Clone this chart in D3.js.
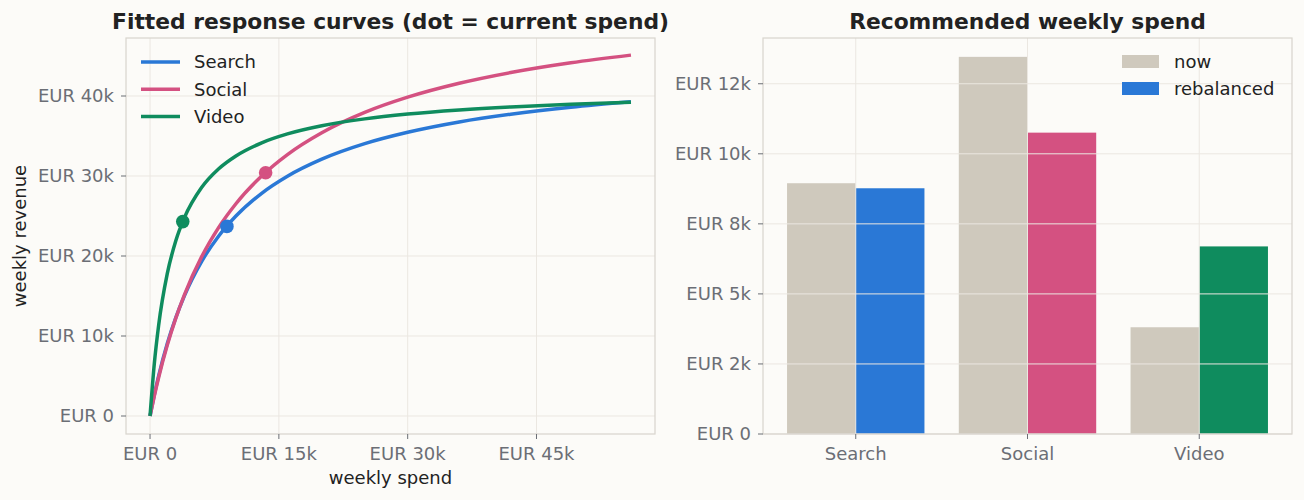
<!DOCTYPE html>
<html>
<head>
<meta charset="utf-8">
<script src="https://cdn.jsdelivr.net/npm/d3@7"></script>
<style>
  html, body { margin: 0; padding: 0; background: #fcfbf8; }
  svg { display: block; font-family: "DejaVu Sans", sans-serif; }
</style>
</head>
<body>
<svg id="chart" width="1304" height="500"></svg>
<script>
const spendGrid = [0, 500, 1000, 2000, 3000, 4000, 6000, 8000, 10000, 13000, 16000, 20000, 25000, 30000, 36000, 42000, 49000, 56000];
const searchRevenue = [0, 2650, 5010, 9020, 12290, 15020, 19300, 22500, 24990, 27840, 29970, 32100, 34040, 35460, 36750, 37720, 38600, 39280];
const socialRevenue = [0, 2520, 4810, 8830, 12230, 15150, 19890, 23580, 26530, 30000, 32680, 35410, 37950, 39850, 41590, 42930, 44150, 45110];
const videoRevenue  = [0, 6570, 11330, 17760, 21900, 24790, 28560, 30910, 32510, 34150, 35260, 36280, 37140, 37740, 38250, 38630, 38960, 39210];

const channels = ["Search", "Social", "Video"];
const channelColors = ["#2a78d6", "#d45181", "#0f8c5e"];
const spendNow = [8950, 13460, 3810];
const spendRebalanced = [8770, 10755, 6695];
const revenueNow = [23700, 30400, 24300];

const spendTicks = [0, 15000, 30000, 45000];
const spendTickLabels = ["EUR 0", "EUR 15k", "EUR 30k", "EUR 45k"];
const revenueTicks = [0, 10000, 20000, 30000, 40000];
const revenueTickLabels = ["EUR 0", "EUR 10k", "EUR 20k", "EUR 30k", "EUR 40k"];
const budgetTicks = [0, 2500, 5000, 7500, 10000, 12500];
const budgetTickLabels = ["EUR 0", "EUR 2k", "EUR 5k", "EUR 8k", "EUR 10k", "EUR 12k"];

const nowColor = "#cfc9bd";
const gridColor = "#ebe7e1";
const spineColor = "#d8d4cd";
const tickColor = "#6b6e75";
const textColor = "#222222";
const fontSize = 18;
const titleSize = 21.8;

const svg = d3.select("#chart");

const drawFrame = (g, x0, x1, y0, y1) => {
  g.append("rect")
    .attr("x", x0).attr("y", y0)
    .attr("width", x1 - x0).attr("height", y1 - y0)
    .attr("fill", "none")
    .attr("stroke", spineColor)
    .attr("stroke-width", 1.2);
};

const drawYTicks = (g, scale, ticks, labels, xLeft) => {
  ticks.forEach((t, i) => {
    const y = scale(t);
    g.append("line")
      .attr("x1", xLeft - 5).attr("x2", xLeft)
      .attr("y1", y).attr("y2", y)
      .attr("stroke", tickColor).attr("stroke-width", 1);
    g.append("text")
      .attr("x", xLeft - 12).attr("y", y)
      .attr("dy", "0.35em")
      .attr("text-anchor", "end")
      .attr("font-size", fontSize)
      .attr("fill", tickColor)
      .text(labels[i]);
  });
};

const drawXTicks = (g, positions, labels, yBottom) => {
  positions.forEach((x, i) => {
    g.append("line")
      .attr("x1", x).attr("x2", x)
      .attr("y1", yBottom).attr("y2", yBottom + 5)
      .attr("stroke", tickColor).attr("stroke-width", 1);
    g.append("text")
      .attr("x", x).attr("y", yBottom + 20)
      .attr("dy", "0.35em")
      .attr("text-anchor", "middle")
      .attr("font-size", fontSize)
      .attr("fill", tickColor)
      .text(labels[i]);
  });
};

// ---------- left panel: response curves ----------
const L = { x0: 126, x1: 655, y0: 38, y1: 434 };
const xSpend = d3.scaleLinear().domain([-2800, 58800]).range([L.x0, L.x1]);
const yRev = d3.scaleLinear().domain([-2250, 47250]).range([L.y1, L.y0]);

const left = svg.append("g");

// grid
left.selectAll(".vgrid").data(spendTicks).enter().append("line")
  .attr("x1", d => xSpend(d)).attr("x2", d => xSpend(d))
  .attr("y1", L.y0).attr("y2", L.y1)
  .attr("stroke", gridColor).attr("stroke-width", 1);
left.selectAll(".hgrid").data(revenueTicks).enter().append("line")
  .attr("x1", L.x0).attr("x2", L.x1)
  .attr("y1", d => yRev(d)).attr("y2", d => yRev(d))
  .attr("stroke", gridColor).attr("stroke-width", 1);

const curves = [searchRevenue, socialRevenue, videoRevenue];
const line = d3.line()
  .x((d, i) => xSpend(spendGrid[i]))
  .y(d => yRev(d))
  .curve(d3.curveMonotoneX);

curves.forEach((rev, c) => {
  left.append("path")
    .attr("d", line(rev))
    .attr("fill", "none")
    .attr("stroke", channelColors[c])
    .attr("stroke-width", 3.5);
});

// current spend dots
channels.forEach((name, c) => {
  left.append("circle")
    .attr("cx", xSpend(spendNow[c]))
    .attr("cy", yRev(revenueNow[c]))
    .attr("r", 6.8)
    .attr("fill", channelColors[c]);
});

drawFrame(left, L.x0, L.x1, L.y0, L.y1);
drawYTicks(left, yRev, revenueTicks, revenueTickLabels, L.x0);
drawXTicks(left, spendTicks.map(xSpend), spendTickLabels, L.y1);

// legend
channels.forEach((name, c) => {
  const y = 62 + c * 27.3;
  left.append("line")
    .attr("x1", 141).attr("x2", 180)
    .attr("y1", y).attr("y2", y)
    .attr("stroke", channelColors[c]).attr("stroke-width", 3.5);
  left.append("text")
    .attr("x", 194).attr("y", y)
    .attr("dy", "0.35em")
    .attr("font-size", fontSize)
    .attr("fill", textColor)
    .text(name);
});

left.append("text")
  .attr("x", (L.x0 + L.x1) / 2).attr("y", 21)
  .attr("dy", "0.35em")
  .attr("text-anchor", "middle")
  .attr("font-size", titleSize)
  .attr("font-weight", "bold")
  .attr("fill", textColor)
  .text("Fitted response curves (dot = current spend)");

left.append("text")
  .attr("x", (L.x0 + L.x1) / 2).attr("y", 478)
  .attr("dy", "0.35em")
  .attr("text-anchor", "middle")
  .attr("font-size", fontSize)
  .attr("fill", textColor)
  .text("weekly spend");

left.append("text")
  .attr("transform", `translate(20, ${(L.y0 + L.y1) / 2}) rotate(-90)`)
  .attr("dy", "0.35em")
  .attr("text-anchor", "middle")
  .attr("font-size", fontSize)
  .attr("fill", textColor)
  .text("weekly revenue");

// ---------- right panel: recommended spend ----------
const R = { x0: 763, x1: 1292, y0: 38, y1: 434 };
const xCat = d3.scaleLinear().domain([-0.54, 2.54]).range([R.x0, R.x1]);
const yBudget = d3.scaleLinear().domain([0, d3.max(spendNow) * 1.05]).range([R.y1, R.y0]);
const barWidth = 0.4;

const right = svg.append("g");

channels.forEach((name, c) => {
  right.append("rect")
    .attr("x", xCat(c - barWidth))
    .attr("y", yBudget(spendNow[c]))
    .attr("width", xCat(c) - xCat(c - barWidth))
    .attr("height", yBudget(0) - yBudget(spendNow[c]))
    .attr("fill", nowColor);
  right.append("rect")
    .attr("x", xCat(c))
    .attr("y", yBudget(spendRebalanced[c]))
    .attr("width", xCat(c + barWidth) - xCat(c))
    .attr("height", yBudget(0) - yBudget(spendRebalanced[c]))
    .attr("fill", channelColors[c]);
});

// grid drawn over the bars
right.selectAll(".hgrid").data(budgetTicks).enter().append("line")
  .attr("x1", R.x0).attr("x2", R.x1)
  .attr("y1", d => yBudget(d)).attr("y2", d => yBudget(d))
  .attr("stroke", gridColor).attr("stroke-width", 1);
right.selectAll(".vgrid").data(channels).enter().append("line")
  .attr("x1", (d, i) => xCat(i)).attr("x2", (d, i) => xCat(i))
  .attr("y1", R.y0).attr("y2", R.y1)
  .attr("stroke", gridColor).attr("stroke-width", 1);

drawFrame(right, R.x0, R.x1, R.y0, R.y1);
drawYTicks(right, yBudget, budgetTicks, budgetTickLabels, R.x0);
drawXTicks(right, channels.map((d, i) => xCat(i)), channels, R.y1);

// legend
[["now", nowColor], ["rebalanced", channelColors[0]]].forEach(([label, color], i) => {
  const y = 61.5 + i * 27;
  right.append("rect")
    .attr("x", 1122).attr("y", y - 6.5)
    .attr("width", 37).attr("height", 13)
    .attr("fill", color);
  right.append("text")
    .attr("x", 1174).attr("y", y)
    .attr("dy", "0.35em")
    .attr("font-size", fontSize)
    .attr("fill", textColor)
    .text(label);
});

right.append("text")
  .attr("x", (R.x0 + R.x1) / 2).attr("y", 21)
  .attr("dy", "0.35em")
  .attr("text-anchor", "middle")
  .attr("font-size", titleSize)
  .attr("font-weight", "bold")
  .attr("fill", textColor)
  .text("Recommended weekly spend");
</script>
</body>
</html>
